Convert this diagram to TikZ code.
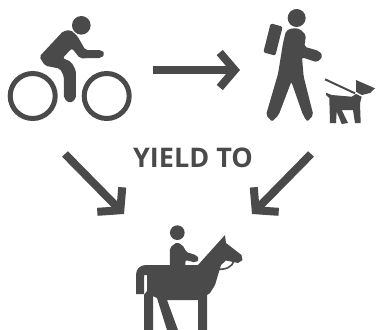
\documentclass[tikz,border=0pt]{standalone}
\usepackage{fontspec}
\setmainfont{Open Sans}
\usetikzlibrary{arrows.meta}
\definecolor{ink}{HTML}{4A4A4A}
\tikzset{
  solidpart/.style={fill=ink,draw=none,rounded corners=2pt},
  wheel/.style={draw=ink,line width=5pt},
  flow/.style={draw=ink,line width=8pt,-{Straight Barb[length=15pt,width=35pt,line width=8pt]}},
  thin/.style={draw=ink,line width=2pt},
}
\begin{document}
\begin{tikzpicture}[x=1pt,y=-1pt]
\useasboundingbox (0,0) rectangle (376,330);
% Bicycle rider
\begin{scope}[scale=1/3]
\fill[ink] (244,76) circle (28);
\fill[solidpart] (118,170) -- (190,93) -- (212,90) -- (232,108) -- (256,150) -- (304,150) -- (315,161) -- (304,174) -- (240,175) -- (216,145) -- (188,174) -- (214,186) -- (228,212) -- (228,296) -- (210,310) -- (192,296) -- (192,230) -- (180,206) -- (135,197) -- cycle;
\end{scope}
\node[wheel,circle,minimum size=45pt,inner sep=0pt] (wheelL) at (32.7,96) {};
\node[wheel,circle,minimum size=45pt,inner sep=0pt] (wheelR) at (106.7,96) {};
% Hiker
\begin{scope}[shift={(188,0)},scale=1/3]
\fill[ink] (326,54) circle (27);
\fill[solidpart] (248,70) -- (284,80) -- (262,167) -- (226,157) -- cycle;
\fill[solidpart] (315,84) -- (294,92) -- (285,130) -- (270,222) -- (234,345) -- (252,365) -- (272,345) -- (310,245) -- (345,345) -- (358,365) -- (376,345) -- (347,230) -- (342,172) -- (388,187) -- (405,168) -- (393,153) -- (349,140) -- (354,105) -- (336,87) -- cycle;
\end{scope}
% Dog
\draw[thin] (325,79.3) -- (355,93.3);
\fill[ink] (356,80) -- (375,88.3) -- (370,93) -- (361.7,95) -- (356,91.7) -- cycle;
\fill[ink] (326,92.7) -- (331.7,95) -- (351.7,96.7) -- (356,94) -- (361.7,96.7) -- (360,103.3) -- (360.7,123) -- (355,123) -- (353,110) -- (341.7,110) -- (348,123) -- (341.7,124) -- (336.7,111.7) -- (336,123) -- (330,123) -- (329.3,98) -- (326,95) -- cycle;
% Horse and rider
\begin{scope}[shift={(120,210)},scale=1/3]
\fill[ink] (172,68) circle (22);
\fill[solidpart] (150,172) -- (150,112) -- (172,96) -- (194,112) -- (196,125) -- (230,136) -- (238,147) -- (228,158) -- (196,150) -- (196,172) -- cycle;
\end{scope}
\fill[ink] (136,294) -- (136,275) .. controls (136,269) and (140,265) .. (146,265) -- (198,265) -- (225,235) -- (226,243) -- (241.5,255) -- (242.5,260) -- (238,263) -- (226,260.5) -- (221,265) -- (215,285) -- (210,293) -- (207,295) -- (207,330) -- (198,330) -- (198,300) -- (167,300) -- (178,330) -- (167,330) -- (157,298) -- (153,296) -- (153,330) -- (144,330) -- (144,295) -- (147,291) -- (147,275) -- (144,275) -- (144,294) -- cycle;
\fill[white] (226,262) -- (233,263) .. controls (232,266) and (228,268.5) .. (222,268) -- (223,264) -- cycle;
\draw[ink,line width=1.6pt] (240,260.5) -- (234,261) .. controls (232,267) and (226,270.5) .. (214,269);
% Labels
\node[text=ink,font=\fontsize{27}{28}\selectfont\bfseries,inner sep=0pt] (yield) at (193,158) {YIELD TO};
% Arrows
\coordinate (bikeOut) at (153,70);
\coordinate (hikerIn) at (240,70);
\coordinate (bikeDown) at (65,154);
\coordinate (hikeDown) at (311,154);
\coordinate (horseL) at (124,214);
\coordinate (horseR) at (252,214);
\draw[flow] (bikeOut) -- (hikerIn);
\draw[flow] (bikeDown) -- (horseL);
\draw[flow] (hikeDown) -- (horseR);
\end{tikzpicture}
\end{document}
